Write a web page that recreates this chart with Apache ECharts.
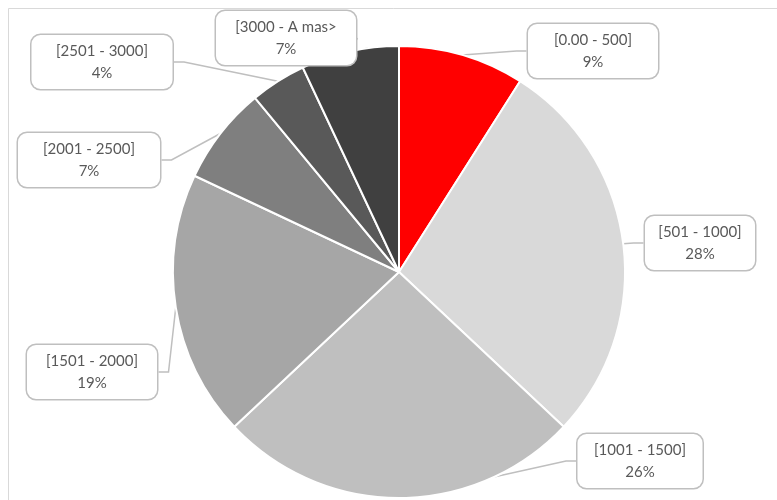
<!DOCTYPE html>
<html>
<head>
<meta charset="utf-8">
<script src="https://cdn.jsdelivr.net/npm/echarts@6/dist/echarts.min.js"></script>
<style>
    html, body { margin: 0; padding: 0; background: #fff; }
    #chart { width: 777px; height: 500px; }
</style>
</head>
<body>
<div id="chart"></div>
<script>
// rangos y porcentajes
const categories = ['[0.00 - 500]', '[501 - 1000]', '[1001 - 1500]', '[1501 - 2000]', '[2001 - 2500]', '[2501 - 3000]', '[3000 - A mas>'];
const percents = [9, 28, 26, 19, 7, 4, 7];
const colors = ['#ff0000', '#d9d9d9', '#bfbfbf', '#a6a6a6', '#7f7f7f', '#595959', '#404040'];
// centro y ancho de cada etiqueta
const labelPos = [[593, 51], [700, 243], [640, 461], [92, 372], [89, 160], [102, 62], [286, 38]];
const labelBoxW = [130, 110, 125, 130, 142, 141, 140];

let chart = echarts.init(document.getElementById('chart'));

let option = {
    backgroundColor: '#fff',
    animation: false,
    graphic: [{
        type: 'rect',
        shape: { x: 8.5, y: 8.5, width: 800, height: 520 },
        style: { fill: 'none', stroke: '#d9d9d9', lineWidth: 1 },
        silent: true
    }],
    series: [{
        type: 'pie',
        center: [399, 272],
        radius: [0, 226],
        startAngle: 90,
        clockwise: true,
        itemStyle: {
            borderColor: '#fff',
            borderWidth: 2
        },
        label: {
            show: true,
            position: 'outside',
            formatter: function (p) {
                return p.name + '\n' + percents[p.dataIndex] + '%';
            },
            fontFamily: 'Lato',
            fontSize: 15,
            lineHeight: 22,
            color: '#595959',
            backgroundColor: '#fff',
            borderColor: '#bfbfbf',
            borderWidth: 1.5,
            borderRadius: 9,
            padding: [5, 6],
            align: 'center',
            overflow: 'none'
        },
        labelLine: {
            show: true,
            length: 10,
            length2: 10,
            lineStyle: { color: '#bfbfbf', width: 1.5 }
        },
        labelLayout: function (params) {
            let pos = labelPos[params.dataIndex];
            return {
                x: pos[0],
                y: pos[1],
                align: 'center',
                verticalAlign: 'middle'
            };
        },
        data: categories.map(function (c, i) {
            return {
                name: c,
                value: percents[i],
                itemStyle: { color: colors[i] },
                label: { width: labelBoxW[i] - 12 }
            };
        })
    }]
};

chart.setOption(option);
</script>
</body>
</html>
